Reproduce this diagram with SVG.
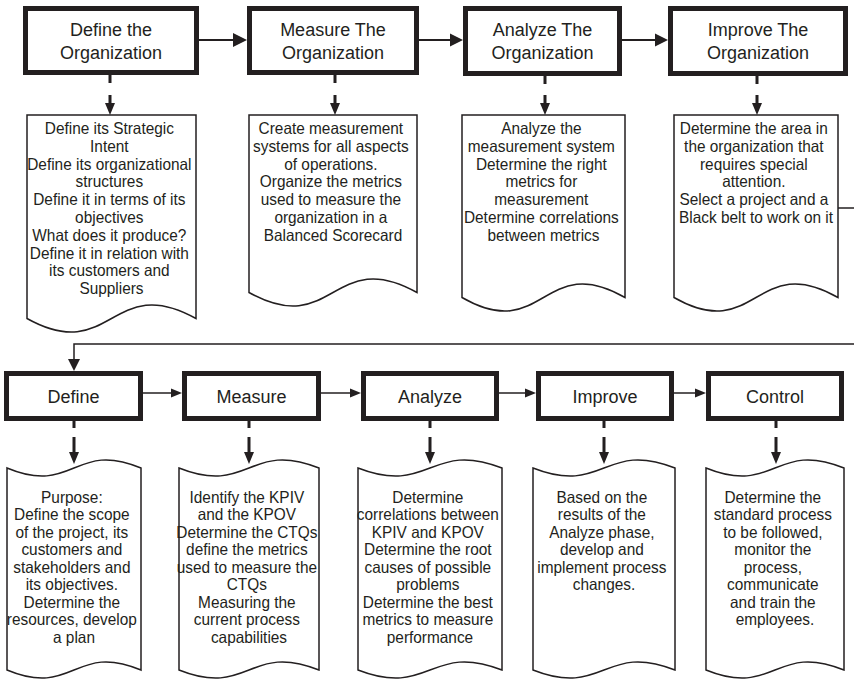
<svg xmlns="http://www.w3.org/2000/svg" width="854" height="683" viewBox="0 0 854 683">
<style>
.box{fill:#fff;stroke:#231f20;stroke-width:5}
.doc{fill:#fff;stroke:#231f20;stroke-width:1.5}
.t{font-family:"Liberation Sans",Arial,sans-serif;fill:#231f20;text-anchor:middle}
.title{font-size:18px}
.body{font-size:15.4px}
.ln{stroke:#231f20;stroke-width:2;fill:none}
.thin{stroke:#231f20;stroke-width:1.5;fill:none}
.dash{stroke:#231f20;stroke-width:3;fill:none}
.head{fill:#231f20}
</style>
<rect width="854" height="683" fill="#fff"/>

<g id="n-define-org">
<rect class="box" x="25.5" y="8.5" width="171" height="64"/>
<text class="t title" x="111" y="36">Define the</text>
<text class="t title" x="111" y="59">Organization</text>
</g>
<g id="n-measure-org">
<rect class="box" x="249.5" y="8.5" width="167" height="64"/>
<text class="t title" x="333" y="36">Measure The</text>
<text class="t title" x="333" y="59">Organization</text>
</g>
<g id="n-analyze-org">
<rect class="box" x="465.5" y="8.5" width="154" height="65"/>
<text class="t title" x="542.5" y="36">Analyze The</text>
<text class="t title" x="542.5" y="59">Organization</text>
</g>
<g id="n-improve-org">
<rect class="box" x="670.5" y="8.5" width="175" height="65"/>
<text class="t title" x="758" y="36">Improve The</text>
<text class="t title" x="758" y="59">Organization</text>
</g>

<g id="d-define-org">
<path class="doc" d="M27,115 H196 V318.5 C111.5,271.5 111.5,365.5 27,318.5 Z"/>
<text class="t body" y="134" transform="matrix(1 0 0 1.07 0 -9.38)">
<tspan x="111.5">Define its Strategic</tspan>
<tspan x="111.5" dy="16.64">Intent</tspan>
<tspan x="111.5" dy="16.64">Define its organizational</tspan>
<tspan x="111.5" dy="16.64">structures</tspan>
<tspan x="111.5" dy="16.64">Define it in terms of its</tspan>
<tspan x="111.5" dy="16.64">objectives</tspan>
<tspan x="111.5" dy="16.64">What does it produce?</tspan>
<tspan x="111.5" dy="16.64">Define it in relation with</tspan>
<tspan x="111.5" dy="16.64">its customers and</tspan>
<tspan x="111.5" dy="16.64">Suppliers</tspan>
</text>
</g>
<g id="d-measure-org">
<path class="doc" d="M249,115 H417 V292.5 C333,245.5 333,339.5 249,292.5 Z"/>
<text class="t body" y="134" transform="matrix(1 0 0 1.07 0 -9.38)">
<tspan x="333">Create measurement</tspan>
<tspan x="333" dy="16.64">systems for all aspects</tspan>
<tspan x="333" dy="16.64">of operations.</tspan>
<tspan x="333" dy="16.64">Organize the metrics</tspan>
<tspan x="333" dy="16.64">used to measure the</tspan>
<tspan x="333" dy="16.64">organization in a</tspan>
<tspan x="333" dy="16.64">Balanced Scorecard</tspan>
</text>
</g>
<g id="d-analyze-org">
<path class="doc" d="M462,115 H625 V297.5 C543.5,250.5 543.5,344.5 462,297.5 Z"/>
<text class="t body" y="134" transform="matrix(1 0 0 1.07 0 -9.38)">
<tspan x="543.5">Analyze the</tspan>
<tspan x="543.5" dy="16.64">measurement system</tspan>
<tspan x="543.5" dy="16.64">Determine the right</tspan>
<tspan x="543.5" dy="16.64">metrics for</tspan>
<tspan x="543.5" dy="16.64">measurement</tspan>
<tspan x="543.5" dy="16.64">Determine correlations</tspan>
<tspan x="543.5" dy="16.64">between metrics</tspan>
</text>
</g>
<g id="d-improve-org">
<path class="doc" d="M674,115 H838 V297.5 C756,250.5 756,344.5 674,297.5 Z"/>
<text class="t body" y="134" transform="matrix(1 0 0 1.07 0 -9.38)">
<tspan x="756">Determine the area in</tspan>
<tspan x="756" dy="16.64">the organization that</tspan>
<tspan x="756" dy="16.64">requires special</tspan>
<tspan x="756" dy="16.64">attention.</tspan>
<tspan x="756" dy="16.64">Select a project and a</tspan>
<tspan x="756" dy="16.64">Black belt to work on it</tspan>
</text>
</g>

<g id="n-define">
<rect class="box" x="6.5" y="373.5" width="134" height="45"/>
<text class="t title" x="73.5" y="402.5">Define</text>
</g>
<g id="n-measure">
<rect class="box" x="184.5" y="373.5" width="134" height="45"/>
<text class="t title" x="251.5" y="402.5">Measure</text>
</g>
<g id="n-analyze">
<rect class="box" x="363.5" y="373.5" width="133" height="45"/>
<text class="t title" x="430" y="402.5">Analyze</text>
</g>
<g id="n-improve">
<rect class="box" x="538.5" y="373.5" width="133" height="45"/>
<text class="t title" x="605" y="402.5">Improve</text>
</g>
<g id="n-control">
<rect class="box" x="708.5" y="373.5" width="133" height="45"/>
<text class="t title" x="775" y="402.5">Control</text>
</g>

<g id="d-define">
<path class="doc" d="M7,468 C74,496 74,440 141,468 V670 C74,642 74,698 7,670 Z"/>
<text class="t body" y="503" transform="matrix(1 0 0 1.07 0 -35.21)">
<tspan x="74">Purpose:</tspan>
<tspan x="74" dy="16.3">Define the scope</tspan>
<tspan x="74" dy="16.3">of the project, its</tspan>
<tspan x="74" dy="16.3">customers and</tspan>
<tspan x="74" dy="16.3">stakeholders and</tspan>
<tspan x="74" dy="16.3">its objectives.</tspan>
<tspan x="74" dy="16.3">Determine the</tspan>
<tspan x="74" dy="16.3">resources, develop</tspan>
<tspan x="74" dy="16.3">a plan</tspan>
</text>
</g>
<g id="d-measure">
<path class="doc" d="M179,468 C249,496 249,440 319,468 V670 C249,642 249,698 179,670 Z"/>
<text class="t body" y="503" transform="matrix(1 0 0 1.07 0 -35.21)">
<tspan x="249">Identify the KPIV</tspan>
<tspan x="249" dy="16.3">and the KPOV</tspan>
<tspan x="249" dy="16.3">Determine the CTQs</tspan>
<tspan x="249" dy="16.3">define the metrics</tspan>
<tspan x="249" dy="16.3">used to measure the</tspan>
<tspan x="249" dy="16.3">CTQs</tspan>
<tspan x="249" dy="16.3">Measuring the</tspan>
<tspan x="249" dy="16.3">current process</tspan>
<tspan x="249" dy="16.3">capabilities</tspan>
</text>
</g>
<g id="d-analyze">
<path class="doc" d="M358,468 C430,496 430,440 502,468 V670 C430,642 430,698 358,670 Z"/>
<text class="t body" y="503" transform="matrix(1 0 0 1.07 0 -35.21)">
<tspan x="430">Determine</tspan>
<tspan x="430" dy="16.3">correlations between</tspan>
<tspan x="430" dy="16.3">KPIV and KPOV</tspan>
<tspan x="430" dy="16.3">Determine the root</tspan>
<tspan x="430" dy="16.3">causes of possible</tspan>
<tspan x="430" dy="16.3">problems</tspan>
<tspan x="430" dy="16.3">Determine the best</tspan>
<tspan x="430" dy="16.3">metrics to measure</tspan>
<tspan x="430" dy="16.3">performance</tspan>
</text>
</g>
<g id="d-improve">
<path class="doc" d="M533,468 C604,496 604,440 675,468 V670 C604,642 604,698 533,670 Z"/>
<text class="t body" y="503" transform="matrix(1 0 0 1.07 0 -35.21)">
<tspan x="604">Based on the</tspan>
<tspan x="604" dy="16.3">results of the</tspan>
<tspan x="604" dy="16.3">Analyze phase,</tspan>
<tspan x="604" dy="16.3">develop and</tspan>
<tspan x="604" dy="16.3">implement process</tspan>
<tspan x="604" dy="16.3">changes.</tspan>
</text>
</g>
<g id="d-control">
<path class="doc" d="M706,468 C775,496 775,440 844,468 V670 C775,642 775,698 706,670 Z"/>
<text class="t body" y="503" transform="matrix(1 0 0 1.07 0 -35.21)">
<tspan x="775">Determine the</tspan>
<tspan x="775" dy="16.3">standard process</tspan>
<tspan x="775" dy="16.3">to be followed,</tspan>
<tspan x="775" dy="16.3">monitor the</tspan>
<tspan x="775" dy="16.3">process,</tspan>
<tspan x="775" dy="16.3">communicate</tspan>
<tspan x="775" dy="16.3">and train the</tspan>
<tspan x="775" dy="16.3">employees.</tspan>
</text>
</g>

<g id="connectors">
<line class="ln" x1="199" y1="40" x2="234" y2="40"/>
<polygon class="head" points="233,33 247,40 233,47"/>
<line class="ln" x1="419" y1="40" x2="451" y2="40"/>
<polygon class="head" points="450,33.5 463,40 450,46.5"/>
<line class="ln" x1="622" y1="40" x2="656" y2="40"/>
<polygon class="head" points="655,33.5 668,40 655,46.5"/>
<path class="dash" d="M110,75 V83 M110,95 V104"/>
<polygon class="head" points="105,103 115,103 110,115"/>
<path class="dash" d="M335,75 V83 M335,95 V104"/>
<polygon class="head" points="330,103 340,103 335,115"/>
<path class="dash" d="M545,76 V84 M545,95 V104"/>
<polygon class="head" points="540,103 550,103 545,115"/>
<path class="dash" d="M757,76 V84 M757,95 V104"/>
<polygon class="head" points="752,103 762,103 757,115"/>
<line class="thin" x1="838" y1="208" x2="854" y2="208"/>
<polyline class="thin" points="854,344 74,344 74,360"/>
<polygon class="head" points="68,359 80,359 74,371"/>
<line class="thin" x1="143" y1="393" x2="172" y2="393"/>
<polygon class="head" points="171,388.5 182,393 171,397.5"/>
<line class="thin" x1="321" y1="393" x2="351" y2="393"/>
<polygon class="head" points="350,388.5 361,393 350,397.5"/>
<line class="thin" x1="499" y1="393" x2="526" y2="393"/>
<polygon class="head" points="525,388.5 536,393 525,397.5"/>
<line class="thin" x1="674" y1="393" x2="696" y2="393"/>
<polygon class="head" points="695,388.5 706,393 695,397.5"/>
<path class="dash" d="M74,421 V428 M74,437 V453"/>
<polygon class="head" points="69,452 79,452 74,464"/>
<path class="dash" d="M249,421 V428 M249,437 V453"/>
<polygon class="head" points="244,452 254,452 249,464"/>
<path class="dash" d="M430,421 V428 M430,437 V453"/>
<polygon class="head" points="425,452 435,452 430,464"/>
<path class="dash" d="M604,421 V428 M604,437 V453"/>
<polygon class="head" points="599,452 609,452 604,464"/>
<path class="dash" d="M776,421 V428 M776,437 V453"/>
<polygon class="head" points="771,452 781,452 776,464"/>
</g>
</svg>
